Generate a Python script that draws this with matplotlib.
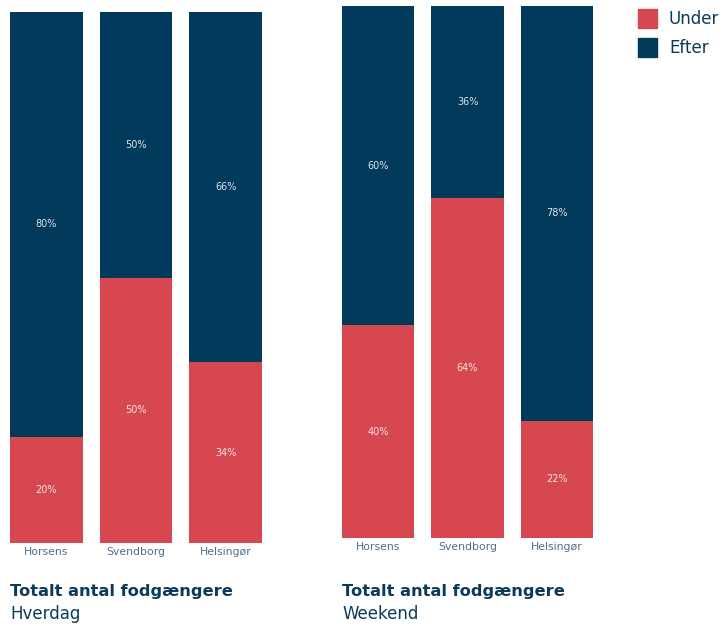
import matplotlib
matplotlib.use("Agg")
import matplotlib.pyplot as plt
from matplotlib.patches import Rectangle

categories = ["Horsens", "Svendborg", "Helsingør"]
hverdag_under = [20, 50, 34]
hverdag_efter = [80, 50, 66]
weekend_under = [40, 64, 22]
weekend_efter = [60, 36, 78]
series_names = ["Under", "Efter"]
subtitles = ["Hverdag", "Weekend"]
title = "Totalt antal fodgængere"

RED = "#D7474F"
NAVY = "#023A5C"
LABEL = "#4F6F8C"
TXT = "#0B3A5A"

W, H = 728, 626
fig = plt.figure(figsize=(W / 100, H / 100), dpi=100)
fig.patch.set_facecolor("white")

def px_axes(x0, x1, ytop, ybot):
    return fig.add_axes([x0 / W, 1 - ybot / H, (x1 - x0) / W, (ybot - ytop) / H])

panels = [
    (px_axes(10, 262, 12, 543), hverdag_under, hverdag_efter, subtitles[0], 10),
    (px_axes(342, 593, 6, 538), weekend_under, weekend_efter, subtitles[1], 342),
]

bw = 0.81
for ax, under, efter, sub, x0 in panels:
    xs = range(len(categories))
    ax.bar(xs, under, width=bw, color=RED, edgecolor="none")
    ax.bar(xs, efter, width=bw, bottom=under, color=NAVY, edgecolor="none")
    for i, (u, e) in enumerate(zip(under, efter)):
        ax.text(i, u / 2, f"{u}%", ha="center", va="center", color="#F2E6E6", fontsize=7)
        ax.text(i, u + e / 2, f"{e}%", ha="center", va="center", color="#DCE4EA", fontsize=7)
    ax.set_xlim(-bw / 2, len(categories) - 1 + bw / 2)
    ax.set_ylim(0, 100)
    ax.set_xticks(list(xs))
    ax.set_xticklabels(categories, fontsize=7.8, color=LABEL)
    ax.tick_params(axis="x", length=0, pad=3)
    ax.set_yticks([])
    for s in ax.spines.values():
        s.set_visible(False)
    fig.text(x0 / W, 1 - 596 / H, title, ha="left", va="baseline",
             fontsize=11.7, fontweight="bold", color=TXT)
    fig.text(x0 / W, 1 - 619 / H, sub, ha="left", va="baseline",
             fontsize=12, color=TXT)

# legend
for j, (name, col) in enumerate(zip(series_names, [RED, NAVY])):
    ytop = 9 + j * 29
    fig.patches.append(Rectangle((638 / W, 1 - (ytop + 19) / H), 19 / W, 19 / H,
                                 transform=fig.transFigure, color=col))
    fig.text(669 / W, 1 - (ytop + 10) / H, name, ha="left", va="center",
             fontsize=12, color=TXT)

fig.savefig("out.png", dpi=100)
